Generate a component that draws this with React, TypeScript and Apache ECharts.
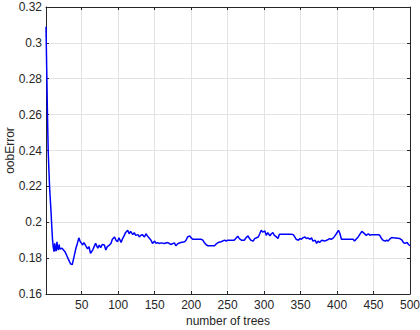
import React, { useEffect, useRef } from "react";
import * as echarts from "echarts";

const trees: number[] = [
  1, 2, 3, 4, 5, 6, 7, 8, 9, 10, 11, 12, 13, 14, 15, 16, 17, 18, 19, 20,
  23, 27, 30, 33, 35, 37, 40, 42, 44, 46, 48, 50, 51, 53, 55, 58, 60, 62, 65, 67,
  69, 72, 74, 76, 78, 81, 83, 85, 88, 90, 92, 95, 97, 99, 101, 104, 106, 108, 110, 113,
  115, 117, 120, 122, 124, 127, 129, 131, 133, 136, 138, 140, 143, 145, 147, 150, 152, 154, 156, 159,
  163, 168, 172, 177, 179, 182, 186, 191, 193, 195, 198, 200, 202, 214, 216, 218, 221, 223, 232, 234,
  237, 241, 246, 248, 250, 259, 262, 264, 266, 269, 273, 275, 278, 280, 282, 285, 287, 292, 294, 296,
  298, 301, 303, 305, 308, 310, 312, 314, 317, 319, 321, 337, 340, 342, 344, 347, 349, 351, 353, 356,
  358, 360, 363, 365, 367, 370, 372, 374, 376, 379, 383, 388, 390, 392, 395, 397, 399, 402, 404, 406,
  422, 424, 427, 429, 431, 434, 436, 438, 440, 443, 445, 447, 457, 459, 461, 463, 466, 468, 470, 473,
  475, 477, 486, 489, 491, 493, 496, 498, 500,
];

const oobError: number[] = [
  0.309, 0.285, 0.26, 0.24, 0.229, 0.219, 0.212, 0.205, 0.197, 0.19, 0.186, 0.1836, 0.1882, 0.1845, 0.184, 0.1891, 0.1855, 0.1845, 0.1876, 0.1851,
  0.1855, 0.1836, 0.1809, 0.1782, 0.1767, 0.1764, 0.1818, 0.1855, 0.1882, 0.1913, 0.1891, 0.1882, 0.1873, 0.1887, 0.1873, 0.1851, 0.1864, 0.1827, 0.1845, 0.1864,
  0.1882, 0.1855, 0.1873, 0.1858, 0.1876, 0.1873, 0.1845, 0.1864, 0.1873, 0.1882, 0.1905, 0.1918, 0.19, 0.1891, 0.1913, 0.1887, 0.1909, 0.1924, 0.1942, 0.1955,
  0.1936, 0.1949, 0.1931, 0.1942, 0.1927, 0.1931, 0.1918, 0.1927, 0.1931, 0.1918, 0.1936, 0.1924, 0.1909, 0.19, 0.1882, 0.1895, 0.1882, 0.1887, 0.1882, 0.1885,
  0.1882, 0.1887, 0.1876, 0.1885, 0.1869, 0.1882, 0.1887, 0.1891, 0.19, 0.1918, 0.1924, 0.1913, 0.1905, 0.1905, 0.19, 0.1887, 0.1873, 0.1869, 0.1869, 0.1878,
  0.1887, 0.1891, 0.19, 0.1895, 0.19, 0.19, 0.1913, 0.1922, 0.1909, 0.19, 0.19, 0.1913, 0.1924, 0.1909, 0.19, 0.1895, 0.1909, 0.1918, 0.1936, 0.1955,
  0.1945, 0.1951, 0.1927, 0.1942, 0.1924, 0.1936, 0.1942, 0.1927, 0.1918, 0.1909, 0.1933, 0.1933, 0.1931, 0.1918, 0.1905, 0.19, 0.1909, 0.1905, 0.1913, 0.1918,
  0.1909, 0.1913, 0.1905, 0.1913, 0.1895, 0.19, 0.1882, 0.1895, 0.1887, 0.19, 0.1895, 0.1904, 0.1909, 0.1905, 0.1913, 0.1924, 0.1936, 0.1955, 0.1936, 0.1905,
  0.1905, 0.1895, 0.1909, 0.1918, 0.1931, 0.1949, 0.1942, 0.1935, 0.1927, 0.1936, 0.1927, 0.1931, 0.1931, 0.1924, 0.1909, 0.19, 0.1895, 0.19, 0.1895, 0.1909,
  0.1915, 0.1913, 0.1909, 0.19, 0.1887, 0.1882, 0.1887, 0.1876, 0.1869,
];

const xTicks: number[] = [50, 100, 150, 200, 250, 300, 350, 400, 450, 500];

const AXIS_COLOR = "#262626";
const GRID_COLOR = "#e3e3e3";
const FONT = "Liberation Sans, Arial, sans-serif";

export default function App() {
  const ref = useRef<HTMLDivElement>(null);
  useEffect(() => {
    if (!ref.current) return;
    const chart = echarts.init(ref.current, undefined, { renderer: "svg" });
    const data = trees.map((t, i) => [t, oobError[i]]);
    const axisLine = { show: true, onZero: false, lineStyle: { color: AXIS_COLOR, width: 1 } };
    const tick = { show: true, inside: true, length: 3, lineStyle: { color: AXIS_COLOR } };
    chart.setOption({
      animation: false,
      backgroundColor: "#ffffff",
      grid: {
        left: 46,
        right: 10,
        top: 7,
        bottom: 36,
        containLabel: false,
        outerBoundsMode: "none",
      },
      xAxis: [
        {
          type: "value",
          min: 1,
          max: 500,
          position: "bottom",
          name: "number of trees",
          nameLocation: "middle",
          nameGap: 21,
          nameMoveOverlap: false,
          nameTextStyle: { color: AXIS_COLOR, fontSize: 12, fontFamily: FONT },
          axisLine,
          axisTick: { ...tick, customValues: xTicks },
          axisLabel: {
            color: AXIS_COLOR,
            fontSize: 12,
            fontFamily: FONT,
            margin: 5,
            customValues: xTicks,
          },
          splitLine: { show: true, lineStyle: { color: GRID_COLOR, width: 1 } },
        },
        {
          type: "value",
          min: 1,
          max: 500,
          position: "top",
          axisLine,
          axisTick: { ...tick, customValues: xTicks },
          axisLabel: { show: false, customValues: xTicks },
          splitLine: { show: false },
        },
      ],
      yAxis: [
        {
          type: "value",
          min: 0.16,
          max: 0.32,
          interval: 0.02,
          position: "left",
          name: "oobError",
          nameLocation: "middle",
          nameGap: 30,
          nameMoveOverlap: false,
          nameTextStyle: { color: AXIS_COLOR, fontSize: 12, fontFamily: FONT },
          axisLine,
          axisTick: tick,
          axisLabel: { color: AXIS_COLOR, fontSize: 12, fontFamily: FONT, margin: 4 },
          splitLine: { show: true, lineStyle: { color: GRID_COLOR, width: 1 } },
        },
        {
          type: "value",
          min: 0.16,
          max: 0.32,
          interval: 0.02,
          position: "right",
          axisLine,
          axisTick: tick,
          axisLabel: { show: false },
          splitLine: { show: false },
        },
      ],
      series: [
        {
          type: "line",
          data,
          xAxisIndex: 0,
          yAxisIndex: 0,
          showSymbol: false,
          symbol: "none",
          lineStyle: { color: "#0000ff", width: 1.5 },
          z: 5,
        },
      ],
    });
    return () => chart.dispose();
  }, []);
  return <div ref={ref} style={{ width: 420, height: 330, position: "absolute", left: 0, top: 0 }} />;
}
